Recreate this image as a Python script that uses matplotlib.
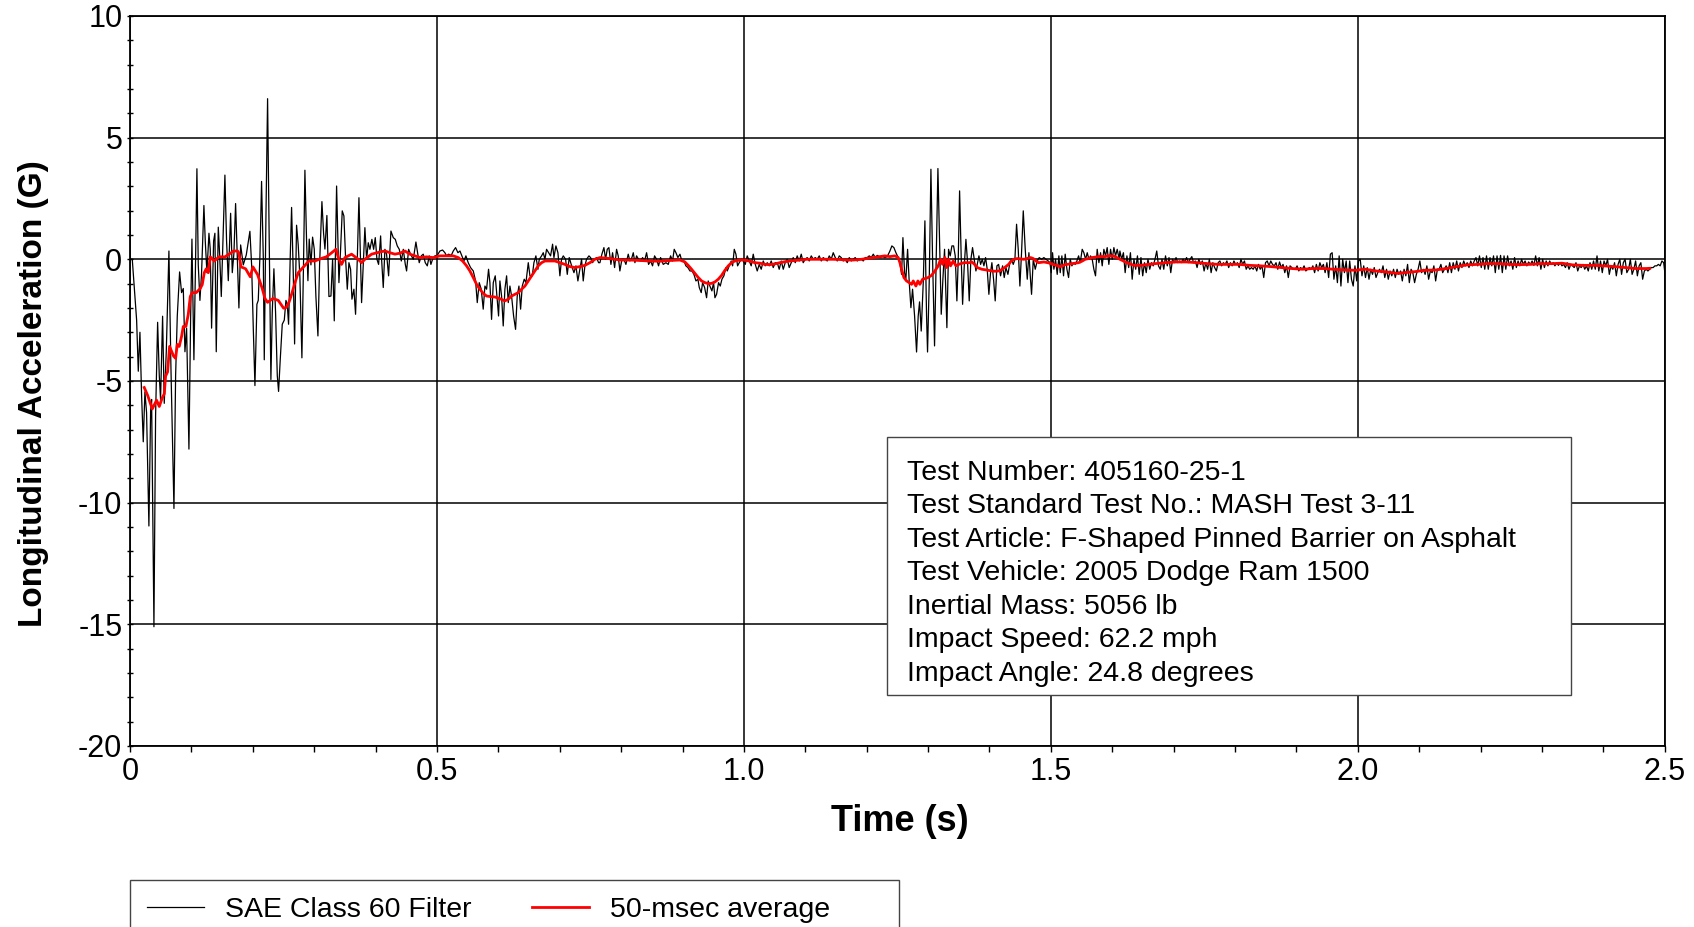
import numpy as np
import matplotlib
matplotlib.use("Agg")
import matplotlib.pyplot as plt
from matplotlib.lines import Line2D
from matplotlib.patches import Rectangle

plt.rcParams["font.family"] = ["Liberation Sans", "DejaVu Sans"]
plt.rcParams["axes.unicode_minus"] = False

# SAE Class 60 filtered longitudinal acceleration, (time s, accel G)
impact = [
    (0.0, 0.0), (0.0038, 0.0), (0.0081, -1.53), (0.0109, -2.5), (0.0136, -4.6), (0.0163, -3.0),
    (0.0190, -5.6), (0.0217, -7.5), (0.0244, -5.45), (0.0271, -6.3), (0.0309, -10.96),
    (0.0337, -6.24), (0.0353, -5.76), (0.0391, -15.1), (0.0418, -6.41), (0.0451, -2.59),
    (0.0478, -4.78), (0.0499, -5.76), (0.0532, -2.34), (0.0559, -5.92), (0.0592, -3.80),
    (0.0635, 0.34), (0.0668, -4.46), (0.0717, -10.24), (0.0744, -4.78), (0.0771, -2.34),
    (0.0809, -0.52), (0.0841, -1.37), (0.0869, -1.20), (0.0896, -3.80), (0.0923, -2.83),
    (0.0961, -7.8), (0.0988, -2.5), (0.1010, 0.83), (0.1042, -4.13), (0.1069, -0.07),
    (0.1091, 3.72), (0.1113, -0.23), (0.1140, -1.69), (0.1167, -0.55), (0.1205, 2.21),
    (0.1227, 0.75), (0.1254, -0.55), (0.1287, 1.07), (0.1308, 0.42), (0.1330, -2.83),
    (0.1363, 0.75), (0.1384, 1.07), (0.1406, -3.80), (0.1439, 1.32), (0.1460, 0.26),
    (0.1488, -1.53), (0.1515, 0.75), (0.1547, 3.46), (0.1574, 0.75), (0.1602, -0.88),
    (0.1640, 1.89), (0.1667, -0.55), (0.1694, 0.26), (0.1721, 2.29), (0.1748, 0.10),
    (0.1775, -2.0), (0.1803, 0.59), (0.1846, -0.23), (0.1895, 0.18), (0.1954, 1.15),
    (0.1982, -0.23), (0.2009, -2.83), (0.2036, -5.19), (0.2068, -1.85), (0.2090, -1.69),
    (0.2117, 0.10), (0.2144, 3.2), (0.2172, 0.10), (0.2188, -4.13), (0.2215, 1.72),
    (0.2242, 6.6), (0.2264, 1.72), (0.2296, -4.94), (0.2318, -2.18), (0.2345, -0.39),
    (0.2372, -2.18), (0.2400, -4.78), (0.2421, -5.43), (0.2448, -4.13), (0.2481, -2.67),
    (0.2514, -2.50), (0.2541, -1.69), (0.2562, -1.85), (0.2584, -2.67), (0.2611, 0.10),
    (0.2633, 2.13), (0.2660, -0.55), (0.2682, -3.48), (0.2714, 1.40), (0.2741, 0.59),
    (0.2768, -0.72), (0.2801, -4.05), (0.2828, -0.07), (0.2850, 3.66), (0.2877, 0.75),
    (0.2899, -0.88), (0.2920, 0.83), (0.2948, -0.23), (0.2975, 0.91), (0.3002, 0.42),
    (0.3029, -1.53), (0.3062, -3.15), (0.3089, -0.23), (0.3127, 2.37), (0.3154, 1.07),
    (0.3176, 0.42), (0.3208, 1.80), (0.3241, -1.53),
]

redirect = [
    (0.3274, -1.51), (0.3301, 0.0), (0.3328, -2.53), (0.3366, 3.01), (0.3404, -0.96),
    (0.3431, 0.41), (0.3458, 1.99), (0.3485, 1.78), (0.3513, 0.0), (0.3540, -1.23),
    (0.3567, -0.14), (0.3594, -0.41), (0.3616, -1.64), (0.3648, -1.23), (0.3675, -2.26),
    (0.3703, 0.0), (0.3730, 2.53), (0.3751, 0.41), (0.3773, -1.78), (0.3800, -0.27),
    (0.3827, 1.30), (0.3855, 0.0), (0.3882, 0.68), (0.3909, 0.41), (0.3941, 0.82),
    (0.3969, 0.41), (0.3996, 0.89), (0.4023, 0.0), (0.4050, -0.21), (0.4083, 0.96),
    (0.4099, 0.0), (0.4126, -1.16), (0.4153, 0.41), (0.4180, 0.21), (0.4213, -0.68),
    (0.4251, 1.16), (0.4289, 0.89), (0.4322, 0.82), (0.4354, 0.55), (0.4387, 0.41),
    (0.4420, -0.07), (0.4452, 0.41), (0.4485, -0.21), (0.4506, -0.48), (0.4539, 0.41),
    (0.4571, 0.21), (0.4615, 0.0), (0.4658, 0.71), (0.4685, 0.27), (0.4712, -0.14),
    (0.4745, 0.14), (0.4777, 0.21), (0.4810, -0.14), (0.4843, -0.27), (0.4875, 0.14),
    (0.4902, -0.21), (0.4929, 0.0), (0.4967, 0.14), (0.5005, 0.16), (0.5049, 0.34),
    (0.5092, 0.38), (0.5130, 0.27), (0.5157, 0.14), (0.5190, 0.21), (0.5234, 0.16),
    (0.5266, 0.34), (0.5304, 0.48), (0.5342, 0.27), (0.5375, 0.34), (0.5407, 0.14),
    (0.5440, -0.07), (0.5472, 0.14), (0.5510, -0.14), (0.5548, -0.34), (0.5592, -0.48),
    (0.5630, -0.89), (0.5657, -1.78), (0.5689, -0.96), (0.5722, -1.23), (0.5754, -2.05),
    (0.5782, -1.10), (0.5809, -1.23), (0.5841, -0.41), (0.5863, -0.96), (0.5890, -2.47),
    (0.5918, -0.96), (0.5950, -0.68), (0.5977, -1.51), (0.6004, -2.33), (0.6026, -0.89),
    (0.6053, -1.51), (0.6080, -2.74), (0.6107, -1.23), (0.6135, -0.68), (0.6162, -1.78),
    (0.6189, -1.10), (0.6216, -1.51), (0.6249, -2.33), (0.6281, -2.88), (0.6308, -1.51),
    (0.6336, -1.10), (0.6363, -2.05), (0.6390, -1.10), (0.6422, -0.82), (0.6450, -0.96),
    (0.6488, -0.14), (0.6515, -0.68), (0.6553, -0.68), (0.6580, -0.14), (0.6612, 0.14),
    (0.6645, -0.41), (0.6667, 0.0), (0.6705, 0.14), (0.6732, 0.27), (0.6759, 0.0),
    (0.6786, 0.41), (0.6819, 0.27), (0.6851, 0.14), (0.6884, 0.62), (0.6906, 0.07),
    (0.6938, 0.55), (0.6971, 0.27), (0.7003, -0.68), (0.7030, 0.0), (0.7058, 0.14),
    (0.7096, 0.0), (0.7123, -0.62), (0.7155, 0.07), (0.7194, -0.27), (0.7232, -0.55),
    (0.7264, -0.27), (0.7296, -0.89), (0.7329, -0.41), (0.7356, 0.0), (0.7383, -0.89),
    (0.7410, -0.27), (0.7437, 0.0), (0.7476, 0.14), (0.7503, 0.07), (0.7535, -0.14),
    (0.7568, 0.0), (0.7600, 0.07), (0.7633, -0.14),
]

glide = [
    (0.7655, -0.14), (0.7687, 0.21), (0.7720, 0.48), (0.7747, 0.0), (0.7774, 0.41),
    (0.7801, 0.48), (0.7834, -0.21), (0.7861, 0.27), (0.7894, -0.34), (0.7926, 0.41),
    (0.7953, 0.14), (0.7980, -0.48), (0.8013, 0.0), (0.8046, 0.0), (0.8078, -0.21),
    (0.8116, 0.21), (0.8143, -0.07), (0.8176, 0.07), (0.8198, 0.27), (0.8225, -0.14),
    (0.8252, 0.14), (0.8284, 0.0), (0.8317, -0.07), (0.8350, 0.07), (0.8382, -0.07),
    (0.8415, 0.27), (0.8447, -0.21), (0.8480, -0.07), (0.8512, -0.27), (0.8545, 0.14),
    (0.8578, 0.0), (0.8610, -0.27), (0.8643, 0.07), (0.8686, -0.21), (0.8730, -0.14),
    (0.8768, -0.21), (0.8806, 0.14), (0.8838, -0.07), (0.8865, 0.41), (0.8893, 0.27),
    (0.8925, 0.07), (0.8958, 0.21), (0.8990, -0.07), (0.9023, -0.07), (0.9055, -0.27),
    (0.9088, -0.34), (0.9121, -0.48), (0.9153, -0.48), (0.9186, -0.62), (0.9219, -0.89),
    (0.9251, -0.82), (0.9273, -1.16), (0.9305, -1.37), (0.9327, -0.96), (0.9360, -1.16),
    (0.9392, -1.58), (0.9419, -0.89), (0.9446, -1.10), (0.9479, -1.30), (0.9506, -0.96),
    (0.9528, -1.58), (0.9555, -1.44), (0.9587, -0.96), (0.9615, -1.10), (0.9642, -0.82),
    (0.9674, -0.68), (0.9707, -0.34), (0.9729, -0.48), (0.9761, -0.27), (0.9794, -0.07),
    (0.9816, -0.27), (0.9843, 0.41), (0.9870, 0.21), (0.9897, -0.27), (0.9924, -0.14),
    (0.9957, 0.0), (0.9989, -0.07), (1.0022, -0.21), (1.0054, 0.14), (1.0087, -0.07),
    (1.0119, -0.27), (1.0152, 0.21), (1.0185, -0.21), (1.0217, -0.48), (1.0250, -0.21),
    (1.0282, -0.41), (1.0315, -0.07), (1.0347, -0.27), (1.0380, -0.14), (1.0413, -0.27),
    (1.0445, -0.07), (1.0478, -0.34), (1.0510, -0.14), (1.0543, -0.14), (1.0575, -0.41),
    (1.0608, -0.07), (1.0641, -0.41), (1.0673, -0.14), (1.0706, 0.0), (1.0738, -0.34),
    (1.0771, -0.14), (1.0803, 0.07), (1.0836, -0.14), (1.0868, 0.14), (1.0901, -0.07),
    (1.0934, 0.21), (1.0966, -0.14), (1.0999, 0.0), (1.1031, 0.07), (1.1064, -0.07),
    (1.1097, 0.14), (1.1129, 0.0), (1.1162, 0.07), (1.1194, 0.0), (1.1227, 0.14),
    (1.1260, -0.07), (1.1292, 0.07), (1.1325, 0.0), (1.1357, -0.07), (1.1390, 0.14),
    (1.1422, 0.0), (1.1455, 0.27), (1.1488, 0.07), (1.1520, -0.07), (1.1553, 0.14),
    (1.1585, 0.07), (1.1618, -0.07), (1.1650, 0.0), (1.1683, -0.14), (1.1716, 0.07),
    (1.1748, -0.07), (1.1781, 0.0), (1.1813, 0.07), (1.1846, -0.07), (1.1879, 0.0),
    (1.1911, 0.0), (1.1944, -0.07), (1.1976, 0.07), (1.2009, 0.07), (1.2041, 0.14),
    (1.2074, 0.07), (1.2107, 0.21), (1.2139, 0.07), (1.2172, 0.16), (1.2204, 0.11),
]

rear_hit = [
    (1.2215, 0.07), (1.2258, 0.11), (1.2296, 0.07), (1.2334, 0.11), (1.2378, 0.34),
    (1.2410, 0.55), (1.2443, 0.48), (1.2476, 0.27), (1.2514, 0.07), (1.2541, -0.14),
    (1.2568, -0.62), (1.2590, 0.89), (1.2617, -0.55), (1.2638, -0.82), (1.2666, 0.41),
    (1.2693, -0.96), (1.2720, -1.99), (1.2747, -1.23), (1.2780, -2.33), (1.2812, -3.81),
    (1.2839, -2.33), (1.2861, -1.75), (1.2888, -2.95), (1.2921, -0.96), (1.2948, 1.58),
    (1.2975, -2.33), (1.2991, -3.81), (1.3018, -0.96), (1.3046, 3.70), (1.3073, 0.0),
    (1.3105, -3.56), (1.3132, 0.0), (1.3160, 3.73), (1.3187, 0.68), (1.3214, -2.26),
    (1.3241, -0.82), (1.3268, 0.41), (1.3306, -2.81), (1.3333, 0.41), (1.3360, 0.14),
    (1.3388, 0.55), (1.3415, 0.55), (1.3442, 0.14), (1.3469, -1.71), (1.3491, 0.0),
    (1.3513, 2.81), (1.3540, 0.0), (1.3562, -1.85), (1.3589, -0.27), (1.3616, 0.82),
    (1.3643, -0.14), (1.3670, -1.71), (1.3697, 0.0), (1.3724, 0.48), (1.3752, 0.0),
    (1.3779, -0.48), (1.3806, -0.14), (1.3828, 0.14), (1.3855, -0.21), (1.3882, 0.0),
    (1.3909, -0.27), (1.3936, 0.07), (1.3963, -0.41), (1.3990, -1.44), (1.4017, -0.55),
    (1.4039, -0.14), (1.4066, -0.82), (1.4093, -1.71), (1.4121, -0.27), (1.4148, -0.21),
    (1.4180, -0.68), (1.4213, -0.27), (1.4240, -0.75), (1.4267, -0.34), (1.4300, -0.62),
    (1.4332, -0.14), (1.4359, 0.0), (1.4387, -0.21), (1.4414, 0.0), (1.4441, 1.44),
    (1.4468, 0.41), (1.4495, -1.10), (1.4522, 0.27), (1.4550, 1.99), (1.4582, 0.41),
    (1.4615, -0.82), (1.4642, 0.27), (1.4664, -0.68), (1.4685, -1.44), (1.4713, 0.0),
    (1.4745, -0.41), (1.4777, -0.07), (1.4810, 0.07), (1.4848, 0.0), (1.4886, 0.07),
    (1.4919, 0.0), (1.4957, -0.07), (1.4984, -0.14), (1.5005, -0.55), (1.5027, 0.27),
    (1.5049, -0.41), (1.5076, 0.0), (1.5103, -0.62), (1.5130, 0.14), (1.5152, -0.55),
    (1.5179, 0.14), (1.5206, -0.68), (1.5233, 0.21), (1.5261, -0.41), (1.5288, -0.75),
    (1.5315, 0.0), (1.5342, -0.27), (1.5369, -0.14), (1.5396, -0.21), (1.5423, -0.07),
    (1.5451, 0.14), (1.5478, -0.14), (1.5510, 0.41), (1.5537, 0.27), (1.5565, 0.0),
    (1.5592, 0.27), (1.5619, 0.0), (1.5646, 0.14), (1.5673, 0.0), (1.5700, -0.41),
    (1.5727, -0.68), (1.5754, 0.41), (1.5782, -0.14), (1.5809, 0.27), (1.5836, -0.27),
    (1.5863, 0.41), (1.5890, 0.14), (1.5917, 0.48), (1.5944, -0.21), (1.5972, 0.41),
    (1.5999, 0.0), (1.6026, 0.48), (1.6053, 0.14), (1.6080, 0.41), (1.6113, 0.0),
]

# exit phase, sampled every 2.857 ms from 1.6124 s
exit_start = 1.6124
exit_step = 0.002857
exit_g = [
    0.34, 0, 0.27, -0.55, 0.14, -0.34, 0.27, -0.82, 0, -0.41,
    0.14, -0.62, 0.07, -0.68, -0.14, -0.55, 0, -0.41, -0.14, -0.27,
    0, 0.34, -0.27, -0.41, 0, -0.41, 0.14, -0.27, 0.07, -0.55,
    0, -0.14, 0.07, -0.14, -0.07, -0.14, 0, -0.11, 0.07, -0.14,
    0, 0.11, -0.14, -0.07, -0.34, 0, -0.21, -0.07, -0.48, -0.14,
    -0.41, 0, -0.55, -0.14, -0.34, -0.48, -0.14, -0.07, -0.27, -0.14,
    -0.21, -0.07, -0.34, -0.14, -0.27, -0.07, -0.21, -0.14, -0.34, 0,
    -0.21, -0.07, -0.41, -0.27, -0.41, -0.34, -0.41, -0.27, -0.48, -0.21,
    -0.41, -0.27, -0.75, -0.14, -0.07, -0.27, -0.07, -0.21, -0.27, -0.14,
    -0.41, -0.11, -0.34, -0.21, -0.55, -0.27, -0.75, -0.27, -0.34, -0.41,
    -0.41, -0.27, -0.48, -0.34, -0.41, -0.27, -0.48, -0.41, -0.34, -0.41,
    -0.27, -0.55, -0.21, -0.48, -0.14, -0.34, -0.21, -0.55, -0.14, -0.75,
    0.21, 0.27, -0.82, -0.27, -0.96, 0.14, -1.10, 0, -0.55, -0.07,
    -0.96, -0.07, -0.82, -1.10, -0.27, -0.89, -0.07, 0, -0.68, -0.27,
    -0.75, -0.34, -0.82, -0.41, -0.62, -0.34, -0.75, -0.55, -0.41, -0.55,
    -0.27, -0.75, -0.41, -0.82, -0.48, -0.68, -0.41, -0.75, -0.41, -0.62,
    -0.48, -0.89, -0.41, -0.68, -0.21, -0.96, -0.41, -0.55, -0.96, -0.62,
    -0.41, -0.07, -0.55, -0.41, -0.62, -0.27, -0.82, -0.48, -0.55, -0.27,
    -0.89, -0.41, -0.41, -0.21, -0.55, -0.41, -0.27, -0.55, -0.14, -0.55,
    -0.14, -0.41, -0.07, -0.48, -0.14, -0.34, -0.07, -0.27, -0.14, -0.34,
    -0.07, -0.27, -0.07, 0.07, -0.27, 0.14, -0.34, 0.07, -0.41, 0.14,
    -0.41, 0.07, -0.27, 0.14, -0.55, 0.14, -0.41, 0.16, -0.55, 0.14,
    -0.41, 0.14, -0.27, -0.07, -0.41, 0.07, -0.34, -0.07, -0.27, 0,
    -0.21, -0.07, -0.27, -0.11, -0.21, -0.07, -0.25, 0.14, -0.27, 0.07,
    -0.41, 0, -0.34, -0.07, -0.27, -0.07, -0.21, -0.14, -0.27, -0.14,
    -0.25, -0.14, -0.27, -0.21, -0.34, -0.14, -0.41, -0.21, -0.27, -0.34,
    -0.14, -0.48, -0.27, -0.34, -0.21, -0.41, -0.27, -0.48, -0.14, -0.41,
    -0.07, -0.41, 0.14, -0.48, -0.07, -0.55, -0.07, -0.27, 0, -0.62,
    -0.27, -0.41, -0.14, -0.68, -0.21, 0, -0.62, -0.14, 0, -0.55,
    -0.41, 0, -0.62, -0.41, -0.07, -0.68, -0.27, -0.14, -0.82, -0.48,
    -0.41, -0.48, -0.41, -0.34, -0.34, -0.27, -0.27, -0.21, -0.27, -0.07,
    -0.14, -0.75,
]

# 50-msec moving average, (time s, accel G)
avg_pts = [
    (0.0233, -5.27), (0.0288, -5.59), (0.0364, -6.15), (0.0434, -5.79), (0.0478, -6.05),
    (0.0527, -5.69), (0.0559, -5.53), (0.0581, -4.80), (0.0613, -4.63), (0.0646, -3.58),
    (0.0711, -3.98), (0.0744, -4.07), (0.0771, -3.50), (0.0803, -3.58), (0.0841, -3.17),
    (0.0869, -2.76), (0.0912, -2.76), (0.0950, -2.27), (0.0983, -1.53), (0.1015, -1.37),
    (0.1080, -1.37), (0.1145, -1.20), (0.1178, -1.04), (0.1211, -0.55), (0.1243, -0.39),
    (0.1276, -0.55), (0.1308, 0.10), (0.1374, -0.07), (0.1450, 0.10), (0.1547, 0.10),
    (0.1645, 0.26), (0.1683, 0.34), (0.1754, 0.34), (0.1775, 0.26), (0.1808, -0.31),
    (0.1884, -0.39), (0.1960, -0.72), (0.2003, -0.31), (0.2079, -0.63), (0.2155, -1.20),
    (0.2199, -1.61), (0.2242, -1.77), (0.2329, -1.61), (0.2416, -1.69), (0.2503, -2.01),
    (0.2546, -1.98), (0.2590, -1.77), (0.2622, -1.53), (0.2660, -1.20), (0.2698, -0.88),
    (0.2742, -0.55), (0.2828, -0.31), (0.2915, -0.07), (0.3013, -0.07), (0.3100, 0.02),
    (0.3198, 0.10), (0.3257, 0.21), (0.3355, 0.41), (0.3393, 0.07), (0.3447, -0.21),
    (0.3502, 0.07), (0.3610, 0.21), (0.3719, 0.0), (0.3773, -0.14), (0.3827, 0.0),
    (0.3936, 0.21), (0.4072, 0.30), (0.4153, 0.34), (0.4235, 0.27), (0.4316, 0.21),
    (0.4397, 0.25), (0.4479, 0.34), (0.4560, 0.21), (0.4642, 0.14), (0.4723, 0.07),
    (0.4832, 0.10), (0.4940, 0.07), (0.5049, 0.14), (0.5266, 0.14), (0.5347, 0.07),
    (0.5418, -0.07), (0.5483, -0.27), (0.5537, -0.48), (0.5592, -0.75), (0.5646, -1.03),
    (0.5700, -1.23), (0.5754, -1.40), (0.5809, -1.51), (0.5863, -1.53), (0.5944, -1.55),
    (0.6026, -1.62), (0.6107, -1.71), (0.6162, -1.64), (0.6216, -1.51), (0.6270, -1.44),
    (0.6325, -1.37), (0.6379, -1.23), (0.6433, -1.10), (0.6488, -0.89), (0.6542, -0.68),
    (0.6596, -0.48), (0.6650, -0.27), (0.6705, -0.14), (0.6759, -0.07), (0.6922, -0.07),
    (0.7003, -0.14), (0.7085, -0.21), (0.7166, -0.30), (0.7248, -0.34), (0.7329, -0.30),
    (0.7410, -0.25), (0.7492, -0.14), (0.7573, 0.0), (0.7655, 0.07), (0.7818, 0.03),
    (0.7980, -0.03), (0.8143, -0.03), (0.8306, -0.05), (0.8469, -0.07), (0.8632, -0.08),
    (0.8795, -0.05), (0.8958, -0.03), (0.9039, -0.11), (0.9093, -0.25), (0.9148, -0.41),
    (0.9202, -0.58), (0.9257, -0.75), (0.9311, -0.89), (0.9365, -0.96), (0.9419, -1.00),
    (0.9474, -0.99), (0.9528, -0.93), (0.9582, -0.82), (0.9637, -0.66), (0.9691, -0.45),
    (0.9745, -0.27), (0.9799, -0.14), (0.9853, -0.07), (0.9935, -0.03), (1.0016, -0.03),
    (1.0098, -0.08), (1.0179, -0.14), (1.0261, -0.16), (1.0342, -0.21), (1.0423, -0.22),
    (1.0505, -0.19), (1.0586, -0.14), (1.0667, -0.10), (1.0749, -0.07), (1.0831, -0.05),
    (1.0912, -0.03), (1.1021, 0.0), (1.1455, 0.0), (1.1564, -0.01), (1.1672, -0.03),
    (1.1781, -0.03), (1.1889, -0.01), (1.1998, 0.03), (1.2107, 0.07), (1.2215, 0.11),
    (1.2296, 0.14), (1.2378, 0.11), (1.2459, 0.14), (1.2514, 0.07), (1.2541, -0.14),
    (1.2568, -0.41), (1.2606, -0.75), (1.2649, -0.89), (1.2693, -0.96), (1.2731, -1.03),
    (1.2758, -0.89), (1.2801, -1.10), (1.2834, -0.89), (1.2866, -1.03), (1.2910, -0.82),
    (1.2953, -0.79), (1.3002, -0.75), (1.3056, -0.66), (1.3111, -0.48), (1.3165, -0.27),
    (1.3203, 0.0), (1.3236, -0.21), (1.3274, 0.07), (1.3301, -0.34), (1.3333, 0.0),
    (1.3366, -0.27), (1.3409, -0.07), (1.3453, -0.27), (1.3496, -0.21), (1.3583, -0.14),
    (1.3670, -0.14), (1.3713, -0.11), (1.3757, -0.21), (1.3800, -0.34), (1.3876, -0.41),
    (1.3952, -0.44), (1.4061, -0.49), (1.4115, -0.49), (1.4169, -0.47), (1.4224, -0.38),
    (1.4267, -0.30), (1.4311, -0.21), (1.4354, -0.07), (1.4397, 0.0), (1.4452, 0.03),
    (1.4560, 0.0), (1.4669, 0.07), (1.4713, 0.03), (1.4756, -0.07), (1.4799, -0.14),
    (1.4886, -0.11), (1.4984, -0.16), (1.5038, -0.21), (1.5092, -0.25), (1.5147, -0.30),
    (1.5190, -0.27), (1.5233, -0.22), (1.5342, -0.18), (1.5451, -0.14), (1.5505, -0.08),
    (1.5559, 0.0), (1.5613, 0.03), (1.5668, 0.07), (1.5776, 0.11), (1.5885, 0.11),
    (1.5939, 0.14), (1.5993, 0.14), (1.6048, 0.11), (1.6124, 0.0), (1.6238, -0.14),
    (1.6353, -0.25), (1.6467, -0.25), (1.6581, -0.21), (1.6695, -0.18), (1.6867, -0.14),
    (1.7038, -0.11), (1.7210, -0.11), (1.7381, -0.14), (1.7553, -0.18), (1.7724, -0.21),
    (1.7896, -0.21), (1.8067, -0.21), (1.8238, -0.25), (1.8410, -0.27), (1.8581, -0.30),
    (1.8753, -0.34), (1.8924, -0.38), (1.9096, -0.41), (1.9267, -0.38), (1.9439, -0.38),
    (1.9610, -0.41), (1.9781, -0.44), (1.9953, -0.45), (2.0124, -0.41), (2.0296, -0.48),
    (2.0467, -0.52), (2.0639, -0.58), (2.0753, -0.55), (2.0924, -0.51), (2.1096, -0.45),
    (2.1267, -0.44), (2.1439, -0.38), (2.1610, -0.30), (2.1782, -0.23), (2.1953, -0.21),
    (2.2124, -0.18), (2.2296, -0.18), (2.2467, -0.21), (2.2639, -0.22), (2.2810, -0.21),
    (2.2982, -0.18), (2.3153, -0.18), (2.3324, -0.16), (2.3496, -0.23), (2.3667, -0.25),
    (2.3839, -0.25), (2.4010, -0.27), (2.4182, -0.30), (2.4353, -0.34), (2.4525, -0.38),
    (2.4696, -0.38), (2.4753, -0.37),
]

test_info = [
    "Test Number: 405160-25-1",
    "Test Standard Test No.: MASH Test 3-11",
    "Test Article: F-Shaped Pinned Barrier on Asphalt",
    "Test Vehicle: 2005 Dodge Ram 1500",
    "Inertial Mass: 5056 lb",
    "Impact Speed: 62.2 mph",
    "Impact Angle: 24.8 degrees",
]

x_ticks = [0, 0.5, 1.0, 1.5, 2.0, 2.5]
x_labels = ["0", "0.5", "1.0", "1.5", "2.0", "2.5"]
y_ticks = [-20, -15, -10, -5, 0, 5, 10]

pts = impact + redirect + glide + rear_hit
filt_t = np.concatenate([[p[0] for p in pts],
                         exit_start + exit_step * np.arange(len(exit_g))])
filt_g = np.concatenate([[p[1] for p in pts], exit_g])
avg_t = np.array([p[0] for p in avg_pts])
avg_g = np.array([p[1] for p in avg_pts])

fig = plt.figure(figsize=(16.94, 9.27), dpi=100)
ax = fig.add_axes([0.0767, 0.1953, 0.9061, 0.7875])

ax.plot(filt_t, filt_g, color="black", lw=0.9, zorder=3)
ax.plot(avg_t, avg_g, color="#ff0000", lw=2.0, zorder=4)

ax.set_xlim(0, 2.5)
ax.set_ylim(-20, 10)
ax.set_xticks(x_ticks)
ax.set_xticklabels(x_labels)
ax.set_yticks(y_ticks)
ax.set_xticks(np.arange(0, 2.51, 0.1), minor=True)
ax.set_yticks(np.arange(-20, 10.1, 1), minor=True)
ax.grid(which="major", color="black", lw=1.1)
ax.set_axisbelow(True)
ax.tick_params(which="both", labelsize=22, width=1.0, color="black")
ax.tick_params(axis="x", which="both", direction="out", length=4, pad=4)
ax.tick_params(axis="y", which="both", direction="inout", length=5, pad=3)
for s in ax.spines.values():
    s.set_linewidth(1.3)
    s.set_color("black")

ax.set_xlabel("Time (s)", fontsize=26, fontweight="bold")
ax.set_ylabel("Longitudinal Acceleration (G)", fontsize=24, fontweight="bold")
ax.xaxis.set_label_coords(0.5016, -0.079)
ax.yaxis.set_label_coords(-0.053, 0.482)

# test information box
ax.add_patch(Rectangle((0.493, 0.0693), 0.446, 0.3534, transform=ax.transAxes,
                       facecolor="white", edgecolor="#444444", lw=1.0, zorder=5))
for i, line in enumerate(test_info):
    y_px = 480 + 33.5 * i
    ax.text(0.506, (746 - y_px) / 730, line, transform=ax.transAxes,
            fontsize=20.5, va="baseline", ha="left", zorder=6)

# legend frame runs off the bottom edge
fig.add_artist(Rectangle((130 / 1694, -0.05), 769 / 1694, 0.05 + 47 / 927,
                         transform=fig.transFigure, facecolor="white",
                         edgecolor="#444444", lw=1.0))
handles = [Line2D([], [], color="black", lw=0.9),
           Line2D([], [], color="#ff0000", lw=2.0)]
fig.legend(handles, ["SAE Class 60 Filter", "50-msec average"], ncol=2,
           loc="center left", bbox_to_anchor=(147 / 1694, 1 - 910 / 927),
           frameon=False, fontsize=20.5, handlelength=2.0, handletextpad=0.75,
           columnspacing=2.1, borderpad=0, borderaxespad=0)

fig.savefig("out.png", dpi=100)
